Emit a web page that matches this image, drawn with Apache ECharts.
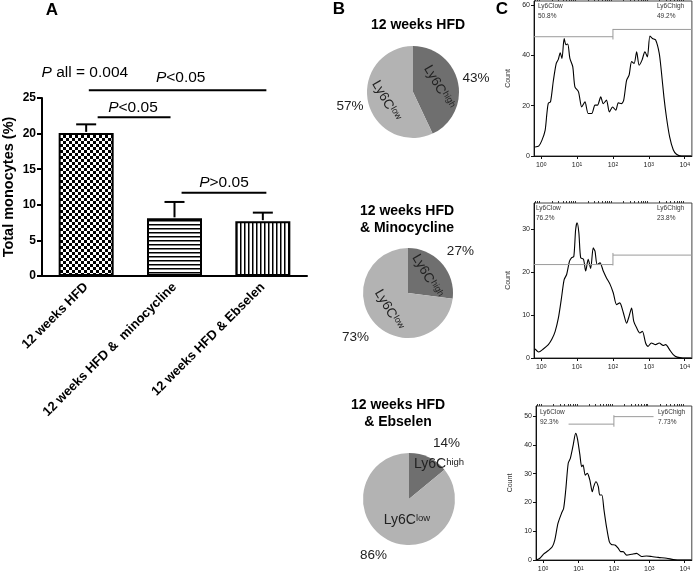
<!DOCTYPE html>
<html><head><meta charset="utf-8">
<script src="https://cdn.jsdelivr.net/npm/echarts@6/dist/echarts.min.js"></script>
<style>html,body{margin:0;padding:0;background:#fff}#c{width:693px;height:577px}</style>
</head><body><div id="c"></div>
<script>
// ---------- Panel A data ----------
const groups = ['12 weeks HFD', '12 weeks HFD &  minocycline', '12 weeks HFD & Ebselen'];
const monoMean = [20.1, 8.1, 7.7];
const monoErr = [1.2, 2.3, 1.2];
const yTicksA = [0, 5, 10, 15, 20, 25];
// significance brackets: [catFrom, offsetFrom, catTo, offsetTo, y]
const sigLines = [[0, 0.03, 2, 0.04, 26.1], [0, 0.13, 1, -0.045, 22.3], [1, 0.08, 2, 0.04, 11.7]];
// significance texts: [text, cat, offset, y]
const sigTexts = [['{i|P} all = 0.004', 0, -0.015, 28.6], ['{i|P}<0.05', 1, 0.07, 27.9], ['{i|P}<0.05', 0, 0.53, 23.7], ['{i|P}>0.05', 1, 0.56, 13.1]];

// ---------- Panel B data ----------
const pieTitles = ['12 weeks HFD', '12 weeks HFD\n& Minocycline', '12 weeks HFD\n& Ebselen'];
const ly6cHigh = [43, 27, 14];
const ly6cLow = [57, 73, 86];

// ---------- Panel C data (x = log10 fluorescence, y = count) ----------
const hist1 = [[-0.17,3.6],[-0.07,3.9],[0.02,6.2],[0.11,10.2],[0.16,17],[0.2,21],[0.26,21.5],[0.34,30],[0.42,36.8],[0.48,38.5],[0.53,41],[0.58,38.8],[0.64,46.7],[0.69,44.2],[0.74,44.5],[0.8,38.8],[0.88,35.5],[0.94,27.5],[1.04,25.5],[1.13,19.5],[1.22,21.5],[1.31,16.9],[1.41,16.9],[1.5,20.2],[1.57,20.2],[1.66,23.5],[1.73,20.8],[1.82,22.2],[1.9,17.5],[1.99,19.5],[2.08,18.2],[2.15,21.1],[2.24,20.8],[2.3,22.2],[2.38,30.1],[2.45,32.1],[2.52,37.5],[2.59,36.8],[2.66,41.4],[2.73,36.1],[2.81,38.1],[2.89,41.4],[2.96,39.4],[3.03,47.7],[3.1,46.7],[3.19,46.1],[3.29,40.8],[3.35,33.5],[3.42,23.5],[3.49,15.5],[3.58,7.6],[3.68,2.5],[3.77,0.7],[3.91,0],[4.19,0]];
const hist2 = [[-0.17,2.1],[-0.07,1.4],[0.06,2.1],[0.2,3.1],[0.3,4.4],[0.39,6.2],[0.48,9.3],[0.56,13.6],[0.64,18.2],[0.71,19.4],[0.79,22.5],[0.85,23.3],[0.91,23.6],[0.96,29.8],[1.0,31.4],[1.05,29.1],[1.1,23.3],[1.18,22.9],[1.24,20.2],[1.31,22.9],[1.38,20.8],[1.45,25.6],[1.5,24.8],[1.56,21.7],[1.64,22.1],[1.73,20.2],[1.82,18.6],[1.92,17.1],[2.01,15.1],[2.1,12.4],[2.19,12.8],[2.29,10.5],[2.38,8.1],[2.45,9.7],[2.52,11.6],[2.58,8.5],[2.66,7.0],[2.75,5.8],[2.82,6.2],[2.91,3.5],[2.98,2.7],[3.07,3.5],[3.19,3.1],[3.29,3.5],[3.4,2.9],[3.47,3.1],[3.58,1.9],[3.68,0.8],[3.79,0.2],[3.95,0],[4.19,0]];
const hist3 = [[-0.19,0],[-0.09,0.6],[0.02,2.1],[0.14,3.2],[0.26,4.6],[0.33,6.9],[0.42,12.7],[0.52,16.2],[0.58,17.9],[0.64,24.3],[0.71,33.6],[0.77,35.3],[0.85,39.9],[0.92,44.0],[0.97,42.2],[1.04,36.5],[1.09,32.4],[1.13,33.0],[1.19,29.5],[1.25,30.1],[1.32,27.8],[1.39,23.7],[1.43,25.5],[1.49,27.2],[1.56,25.5],[1.6,22.6],[1.66,22.6],[1.72,17.4],[1.79,11.6],[1.87,6.4],[1.93,5.4],[2.03,5.2],[2.12,4.1],[2.19,2.9],[2.26,2.9],[2.36,1.7],[2.5,2.0],[2.64,2.3],[2.78,1.2],[2.92,1.4],[3.07,1.2],[3.25,0.9],[3.49,0.6],[3.68,0.2],[3.87,0],[4.19,0]];
const hists = [hist1, hist2, hist3];
const histYTicks = [[0, 20, 40, 60], [0, 10, 20, 30], [0, 10, 20, 30, 40, 50]];
const histYMax = [61.6, 36, 53.5];
const decadeTicks = [0, 1, 2, 3, 4];
const lowPct = ['50.8%', '76.2%', '92.3%'];
const highPct = ['49.2%', '23.8%', '7.73%'];
// gates: [xFrom, xTo, y] and marker [x, yFrom, yTo]
const gatesLow = [[-0.2, 2, 47.4], [-0.2, 2, 21.7], [0.72, 2, 47.2]];
const gateMarks = [[2, 46.3, 50.5], [2, 21.5, 24.4], [2, 46.3, 50.3]];
const gatesHigh = [[2, 4.2, 50.3], [2, 4.2, 23.9], [2, 3.12, 49.8]];

// ---------- helpers ----------
const F = '"Liberation Sans", Arial, Helvetica, sans-serif';
function makePattern(kind) {
  const s = kind === 'check' ? 6 : 4;
  const c = document.createElement('canvas'); c.width = s; c.height = s;
  const g = c.getContext('2d');
  g.fillStyle = '#fff'; g.fillRect(0, 0, s, s); g.fillStyle = '#000';
  if (kind === 'check') { g.fillRect(0, 0, 3, 3); g.fillRect(3, 3, 3, 3); }
  else if (kind === 'h') { g.fillRect(0, 0, s, 1.5); }
  else { g.fillRect(0, 0, 1.5, s); }
  return { image: c, repeat: 'repeat' };
}
const patterns = [makePattern('check'), makePattern('h'), makePattern('v')];
const minorTicks = [];
for (let k = -1; k <= 3; k++) for (let m = 2; m <= 9; m++) {
  const v = k + Math.log10(m); if (v > -0.2 && v < 4.2) minorTicks.push(v);
}

const chart = echarts.init(document.getElementById('c'), null, { renderer: 'canvas' });

const grid = [
  { left: 41, top: 98, width: 266, height: 178 },
  { left: 534, top: 1, width: 158, height: 155, show: true, borderColor: '#444', borderWidth: 1 },
  { left: 534, top: 203, width: 158, height: 155, show: true, borderColor: '#444', borderWidth: 1 },
  { left: 536, top: 406, width: 156, height: 154, show: true, borderColor: '#444', borderWidth: 1 }
];

const xAxis = [{
  type: 'category', gridIndex: 0, data: groups,
  axisLine: { lineStyle: { color: '#000', width: 2 } },
  axisTick: { alignWithLabel: true, length: 5, lineStyle: { color: '#000', width: 2 } },
  axisLabel: { rotate: 45, interval: 0, fontWeight: 'bold', fontSize: 13, color: '#000', fontFamily: F, margin: 9 }
}];
const yAxis = [{
  type: 'value', gridIndex: 0, min: 0, max: 25, interval: 5,
  name: 'Total monocytes (%)', nameLocation: 'middle', nameGap: 26,
  nameTextStyle: { fontWeight: 'bold', fontSize: 14.5, color: '#000', fontFamily: F },
  axisLine: { show: true, lineStyle: { color: '#000', width: 2 } },
  axisTick: { show: true, length: 5, lineStyle: { color: '#000', width: 2 } },
  axisLabel: { fontWeight: 'bold', fontSize: 12, color: '#000', fontFamily: F, margin: 6 },
  splitLine: { show: false }
}];
for (let h = 0; h < 3; h++) {
  xAxis.push({
    type: 'value', gridIndex: h + 1, min: -0.2, max: 4.2,
    axisLine: { onZero: false, lineStyle: { color: '#111', width: 1 } },
    axisTick: { length: 3, customValues: decadeTicks, lineStyle: { color: '#111' } },
    axisLabel: {
      customValues: decadeTicks, margin: 6, color: '#222', fontSize: 7, fontFamily: F,
      formatter: v => '10{s|' + v + '}',
      rich: { s: { fontSize: 5, verticalAlign: 'top', color: '#222', fontFamily: F } }
    },
    splitLine: { show: false }
  });
  xAxis.push({
    type: 'value', gridIndex: h + 1, min: -0.2, max: 4.2,
    axisLine: { show: false, onZero: false },
    axisTick: { show: true, length: 2, customValues: minorTicks, lineStyle: { color: '#333' } },
    axisLabel: { show: false }, splitLine: { show: false }
  });
  yAxis.push({
    type: 'value', gridIndex: h + 1, min: 0, max: histYMax[h],
    name: 'Count', nameLocation: 'middle', nameGap: 22,
    nameTextStyle: { fontSize: 7, color: '#333', fontFamily: F },
    axisLine: { show: true, onZero: false, lineStyle: { color: '#111', width: 1 } },
    axisTick: { show: true, length: 3, customValues: histYTicks[h], lineStyle: { color: '#111' } },
    axisLabel: { customValues: histYTicks[h], fontSize: 7, color: '#222', fontFamily: F, margin: 4 },
    splitLine: { show: false }
  });
}

const series = [];
series.push({
  type: 'bar', xAxisIndex: 0, yAxisIndex: 0, barWidth: 55, silent: true,
  itemStyle: { borderColor: '#000', borderWidth: 2 },
  data: monoMean.map((v, i) => ({ value: v, itemStyle: { color: patterns[i] } }))
});
series.push({
  type: 'custom', xAxisIndex: 0, yAxisIndex: 0, silent: true, z: 5, clip: false,
  data: monoMean.map((v, i) => [i, v, v + monoErr[i]]),
  renderItem: (params, api) => {
    const base = api.coord([api.value(0), api.value(1)]);
    const top = api.coord([api.value(0), api.value(2)]);
    return { type: 'group', children: [
      { type: 'line', shape: { x1: top[0], y1: top[1], x2: base[0], y2: base[1] - 1 }, style: { stroke: '#000', lineWidth: 2 } },
      { type: 'line', shape: { x1: top[0] - 10, y1: top[1], x2: top[0] + 10, y2: top[1] }, style: { stroke: '#000', lineWidth: 2 } }
    ] };
  }
});
series.push({
  type: 'custom', xAxisIndex: 0, yAxisIndex: 0, silent: true, clip: false,
  data: sigLines.map(d => [d[0], d[4]]),
  renderItem: (params, api) => {
    const d = sigLines[params.dataIndex];
    const band = api.size([1, 0])[0];
    const p1 = api.coord([d[0], d[4]]), p2 = api.coord([d[2], d[4]]);
    return { type: 'line', shape: { x1: p1[0] + d[1] * band, y1: p1[1], x2: p2[0] + d[3] * band, y2: p2[1] }, style: { stroke: '#000', lineWidth: 2 } };
  }
});
series.push({
  type: 'custom', xAxisIndex: 0, yAxisIndex: 0, silent: true, clip: false,
  data: sigTexts.map(d => [d[1], d[3]]),
  renderItem: (params, api) => {
    const d = sigTexts[params.dataIndex];
    const band = api.size([1, 0])[0];
    const p = api.coord([d[1], d[3]]);
    return { type: 'text', x: p[0] + d[2] * band, y: p[1], style: {
      text: d[0], align: 'center', verticalAlign: 'middle', fontSize: 15.5, fontFamily: F, fill: '#000',
      rich: { i: { fontStyle: 'italic', fontSize: 15.5, fontFamily: F, fill: '#000' } } } };
  }
});

// pies
const pieCenters = [[413, 92], [408, 293], [409, 499]];
const pieR = [46, 45, 46];
const pieRot = [-60, -60, 0];
const pieFont = [[13.5, 9], [13.5, 9], [14, 9.5]];
const inOffsets = [[[1, 0], [2, 3]], [[0, 0], [0, 0]], [[19, -11], [9, -2]]];
const outOffsets = [[[0, 0], [0, 0]], [[4, 1], [-4, 2]], [[10, 3], [-8, -2]]];
for (let i = 0; i < 3; i++) {
  const fs = pieFont[i];
  series.push({
    type: 'pie', center: pieCenters[i], radius: pieR[i], startAngle: 90, clockwise: true,
    avoidLabelOverlap: false, silent: true, animation: false,
    labelLine: { show: false },
    label: {
      position: 'inside', rotate: pieRot[i], color: '#222', fontSize: fs[0], fontFamily: F,
      formatter: p => 'Ly6C{s|' + (p.dataIndex === 0 ? 'high' : 'low') + '}',
      rich: { s: { fontSize: fs[1], verticalAlign: 'top', color: '#222', fontFamily: F } }
    },
    data: [
      { name: 'Ly6C high', value: ly6cHigh[i], itemStyle: { color: '#6f6f6f' }, label: { offset: inOffsets[i][0] } },
      { name: 'Ly6C low', value: ly6cLow[i], itemStyle: { color: '#b3b3b3' }, label: { offset: inOffsets[i][1] } }
    ]
  });
  series.push({
    type: 'pie', center: pieCenters[i], radius: [55, 68], startAngle: 90, clockwise: true,
    avoidLabelOverlap: false, silent: true, animation: false,
    labelLine: { show: false },
    label: { position: 'inside', color: '#222', fontSize: 13.5, fontFamily: F, formatter: '{c}%' },
    data: [
      { name: 'high', value: ly6cHigh[i], itemStyle: { color: 'rgba(0,0,0,0)' }, label: { offset: outOffsets[i][0] } },
      { name: 'low', value: ly6cLow[i], itemStyle: { color: 'rgba(0,0,0,0)' }, label: { offset: outOffsets[i][1] } }
    ]
  });
}

// histograms
for (let h = 0; h < 3; h++) {
  series.push({
    type: 'line', xAxisIndex: 1 + 2 * h, yAxisIndex: 1 + h, data: hists[h],
    symbol: 'none', smooth: 0.25, silent: true,
    lineStyle: { color: '#000', width: 1.1 }
  });
  const segs = [
    [[gatesLow[h][0], gatesLow[h][2]], [gatesLow[h][1], gatesLow[h][2]]],
    [[gateMarks[h][0], gateMarks[h][1]], [gateMarks[h][0], gateMarks[h][2]]],
    [[gatesHigh[h][0], gatesHigh[h][2]], [gatesHigh[h][1], gatesHigh[h][2]]]
  ];
  segs.forEach(s => series.push({
    type: 'line', xAxisIndex: 1 + 2 * h, yAxisIndex: 1 + h, data: s,
    symbol: 'none', silent: true, lineStyle: { color: '#9a9a9a', width: 1 }
  }));
}

// free text
const graphic = [];
function txt(x, y, text, opts) {
  graphic.push({ type: 'text', x: x, y: y, silent: true, style: Object.assign({
    text: text, fontFamily: F, fill: '#000', align: 'center', verticalAlign: 'middle' }, opts || {}) });
}
txt(52, 10, 'A', { fontSize: 17, fontWeight: 'bold' });
txt(339, 9, 'B', { fontSize: 17, fontWeight: 'bold' });
txt(502, 9, 'C', { fontSize: 17, fontWeight: 'bold' });
const pieTitlePos = [[418, 25], [407, 219.5], [398, 413.5]];
pieTitles.forEach((t, i) => txt(pieTitlePos[i][0], pieTitlePos[i][1], t, { fontSize: 14, fontWeight: 'bold', lineHeight: 17 }));
const gateTextPos = [[538, 6, 657], [536, 208, 657], [540, 412, 658]];
for (let h = 0; h < 3; h++) {
  const p = gateTextPos[h];
  const o = { fontSize: 6.5, fill: '#333', align: 'left' };
  txt(p[0], p[1], 'Ly6Clow', o);
  txt(p[0], p[1] + 10, lowPct[h], o);
  txt(p[2], p[1], 'Ly6Chigh', o);
  txt(p[2], p[1] + 10, highPct[h], o);
}

chart.setOption({
  animation: false,
  backgroundColor: '#fff',
  textStyle: { fontFamily: F },
  grid: grid, xAxis: xAxis, yAxis: yAxis, series: series, graphic: graphic
});
</script></body></html>
